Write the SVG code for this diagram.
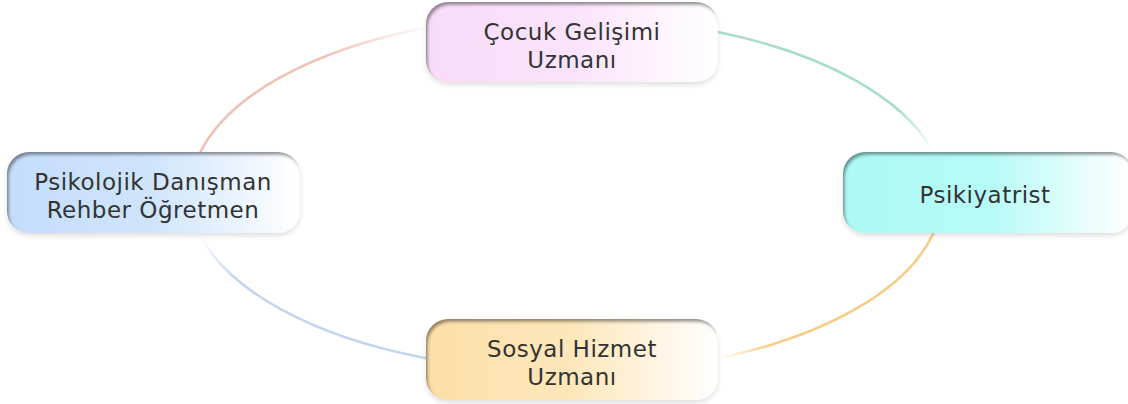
<svg xmlns="http://www.w3.org/2000/svg" width="1128" height="404" viewBox="0 0 1128 404">
<style>
.lbl{font-family:"DejaVu Sans","Liberation Sans",sans-serif;font-size:23px;letter-spacing:0.5px;fill:#333;text-anchor:middle}
.arc{fill:none;stroke-width:2.6;stroke-linecap:round}
.node{filter:url(#nodeFx)}
</style>
<defs>
<filter id="nodeFx" x="-10%" y="-20%" width="120%" height="150%">
 <feGaussianBlur in="SourceAlpha" stdDeviation="2.5" result="b"/>
 <feOffset in="b" dx="0" dy="3" result="ob"/>
 <feFlood flood-color="#000" flood-opacity="0.12"/>
 <feComposite in2="ob" operator="in" result="drop"/>
 <feFlood flood-color="#222" flood-opacity="0.7" result="f2"/>
 <feComposite in="f2" in2="SourceAlpha" operator="out" result="inv"/>
 <feOffset in="inv" dx="2" dy="3" result="invo"/>
 <feGaussianBlur in="invo" stdDeviation="1.8" result="invb"/>
 <feComposite in="invb" in2="SourceAlpha" operator="in" result="inner"/>
 <feMerge><feMergeNode in="drop"/><feMergeNode in="SourceGraphic"/><feMergeNode in="inner"/></feMerge>
</filter>
<linearGradient id="fPink" x1="0" y1="0" x2="1" y2="0"><stop offset="0" stop-color="#f8dbf8"/><stop offset="0.5" stop-color="#fae3fa"/><stop offset="1" stop-color="#ffffff"/></linearGradient>
<linearGradient id="fBlue" x1="0" y1="0" x2="1" y2="0"><stop offset="0" stop-color="#c4ddfa"/><stop offset="0.5" stop-color="#cfe5fc"/><stop offset="1" stop-color="#ffffff"/></linearGradient>
<linearGradient id="fCyan" x1="0" y1="0" x2="1" y2="0"><stop offset="0" stop-color="#adf9f5"/><stop offset="0.5" stop-color="#b6faf6"/><stop offset="1" stop-color="#ffffff"/></linearGradient>
<linearGradient id="fPeach" x1="0" y1="0" x2="1" y2="0"><stop offset="0" stop-color="#fcdfa8"/><stop offset="0.5" stop-color="#fde7ba"/><stop offset="1" stop-color="#ffffff"/></linearGradient>
<linearGradient id="sTeal" gradientUnits="userSpaceOnUse" x1="718" y1="32" x2="932" y2="150"><stop offset="0" stop-color="#a8dccd"/><stop offset="0.8" stop-color="#a8dccd"/><stop offset="1" stop-color="#a8dccd" stop-opacity="0"/></linearGradient>
<linearGradient id="sOrange" gradientUnits="userSpaceOnUse" x1="933" y1="234" x2="720" y2="358"><stop offset="0" stop-color="#f6cd86"/><stop offset="0.8" stop-color="#f6cd86"/><stop offset="1" stop-color="#f6cd86" stop-opacity="0"/></linearGradient>
<linearGradient id="sBlue" gradientUnits="userSpaceOnUse" x1="425" y1="358" x2="200" y2="235"><stop offset="0" stop-color="#c3d6ef"/><stop offset="0.8" stop-color="#c3d6ef"/><stop offset="1" stop-color="#c3d6ef" stop-opacity="0"/></linearGradient>
<linearGradient id="sSalmon" gradientUnits="userSpaceOnUse" x1="200" y1="153" x2="425" y2="28"><stop offset="0" stop-color="#efc2b6"/><stop offset="0.6" stop-color="#efc2b6"/><stop offset="1" stop-color="#efc2b6" stop-opacity="0.1"/></linearGradient>
</defs>
<rect width="1128" height="404" fill="#ffffff"/>
<g id="connectors">
 <path class="arc" stroke="url(#sTeal)" d="M718,32 A376,178 0 0 1 932,150"/>
 <path class="arc" stroke="url(#sOrange)" d="M933,234 A376,178 0 0 1 720,358"/>
 <path class="arc" stroke="url(#sBlue)" d="M425,358 A376,178 0 0 1 200,235"/>
 <path class="arc" stroke="url(#sSalmon)" d="M200,153 A376,178 0 0 1 425,28"/>
</g>
<g id="node-cocuk">
 <rect class="node" x="426" y="2" width="292" height="80" rx="22" fill="url(#fPink)"/>
 <text class="lbl" x="572" y="40">Çocuk Gelişimi</text>
 <text class="lbl" x="572" y="68">Uzmanı</text>
</g>
<g id="node-psikolojik">
 <rect class="node" x="7" y="152" width="293" height="81" rx="22" fill="url(#fBlue)"/>
 <text class="lbl" x="153" y="190">Psikolojik Danışman</text>
 <text class="lbl" x="153" y="218">Rehber Öğretmen</text>
</g>
<g id="node-psikiyatrist">
 <rect class="node" x="843" y="152" width="290" height="81" rx="22" fill="url(#fCyan)"/>
 <text class="lbl" x="985" y="203">Psikiyatrist</text>
</g>
<g id="node-sosyal">
 <rect class="node" x="426" y="319" width="292" height="81" rx="22" fill="url(#fPeach)"/>
 <text class="lbl" x="572" y="357">Sosyal Hizmet</text>
 <text class="lbl" x="572" y="385">Uzmanı</text>
</g>
</svg>
